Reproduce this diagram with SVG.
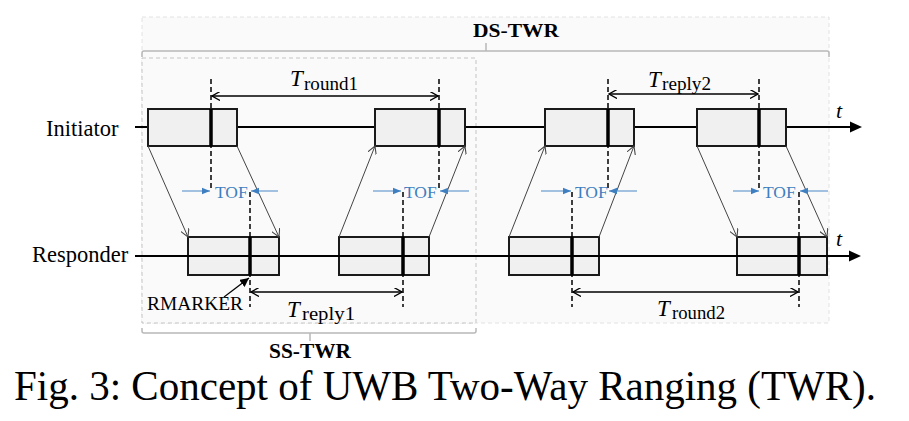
<svg xmlns="http://www.w3.org/2000/svg" width="909" height="421" viewBox="0 0 909 421">
<style>
.box{fill:#f0f0f0;stroke:#1a1a1a;stroke-width:2}
.mark{stroke:#000;stroke-width:3.5}
.axis{stroke:#000;stroke-width:2;fill:none}
.dash{stroke:#000;stroke-width:1.5;stroke-dasharray:5,3;fill:none}
.sig{stroke:#444;stroke-width:1;fill:none;marker-end:url(#sa)}
.dim{stroke:#000;stroke-width:1.5;fill:none;marker-start:url(#da);marker-end:url(#da)}
.tofl{stroke:#4a88c8;stroke-width:1;fill:none;marker-end:url(#ba)}
.tof{font-family:"Liberation Serif",serif;font-size:17.5px;fill:#3f7fc0}
.lbl{font-family:"Liberation Serif",serif;fill:#000}
.it{font-style:italic}
.brk{stroke:#b8b8b8;stroke-width:1.5;fill:none}
</style>
<defs>
<marker id="da" viewBox="0 0 10 10" refX="9" refY="5" markerWidth="9" markerHeight="9" markerUnits="userSpaceOnUse" orient="auto-start-reverse">
<path d="M0,0 L9,5 L0,10" fill="none" stroke="#000" stroke-width="1.5"/>
</marker>
<marker id="sa" viewBox="0 0 10 10" refX="9" refY="5" markerWidth="9" markerHeight="9" markerUnits="userSpaceOnUse" orient="auto">
<path d="M0,0 L9,5 L0,10" fill="none" stroke="#444" stroke-width="1.2"/>
</marker>
<marker id="ba" viewBox="0 0 10 10" refX="10" refY="5" markerWidth="8" markerHeight="8" markerUnits="userSpaceOnUse" orient="auto">
<path d="M0,1 L10,5 L0,9 Z" fill="#3f7fc0"/>
</marker>
<marker id="ka" viewBox="0 0 10 10" refX="10" refY="5" markerWidth="9" markerHeight="9" markerUnits="userSpaceOnUse" orient="auto">
<path d="M0,0 L10,5 L0,10 Z" fill="#000"/>
</marker>
</defs>
<rect width="909" height="421" fill="#fff"/>

<g id="ds-region">
<rect x="142" y="17" width="687" height="306" fill="#fafafa" stroke="#e2e2e2" stroke-width="1" stroke-dasharray="4,3"/>
<path class="brk" d="M142,57 L142,53 Q142,51 144,51 L827,51 Q829,51 829,53 L829,57 M486,51 L486,43"/>
<text class="lbl" x="473" y="37" font-size="19" font-weight="bold" textLength="86" lengthAdjust="spacingAndGlyphs">DS-TWR</text>
</g>

<g id="ss-region">
<rect x="142" y="58" width="334" height="265" fill="#fafafa" stroke="#c4c4c4" stroke-width="1" stroke-dasharray="4,3"/>
<path class="brk" d="M142,328 L142,331 Q142,333 144,333 L474,333 Q476,333 476,331 L476,328 M310,333 L310,341"/>
<text class="lbl" x="310" y="358" font-size="21" font-weight="bold" text-anchor="middle" textLength="82" lengthAdjust="spacingAndGlyphs">SS-TWR</text>
</g>

<g id="initiator">
<text class="lbl" x="46" y="136" font-size="22.5">Initiator</text>
<line class="axis" x1="135" y1="127" x2="852" y2="127"/>
<path d="M862,127 L850,121.5 L850,132.5 Z" fill="#000"/>
<text class="lbl it" x="836" y="118" font-size="22">t</text>
</g>

<g id="responder">
<text class="lbl" x="32" y="262" font-size="22.5">Responder</text>
</g>

<g id="init-box1"><rect class="box" x="148" y="109" width="89" height="37"/><line class="mark" x1="211" y1="109" x2="211" y2="146"/></g>
<g id="init-box2"><rect class="box" x="375" y="109" width="90" height="37"/><line class="mark" x1="439" y1="109" x2="439" y2="146"/></g>
<g id="init-box3"><rect class="box" x="545" y="109" width="89" height="37"/><line class="mark" x1="608" y1="109" x2="608" y2="146"/></g>
<g id="init-box4"><rect class="box" x="697" y="109" width="89" height="37"/><line class="mark" x1="759" y1="109" x2="759" y2="146"/></g>

<g id="resp-box1"><rect class="box" x="188" y="237" width="91" height="38"/></g>
<g id="resp-box2"><rect class="box" x="339" y="237" width="90" height="38"/></g>
<g id="resp-box3"><rect class="box" x="509" y="237" width="90" height="38"/></g>
<g id="resp-box4"><rect class="box" x="737" y="237" width="90" height="38"/></g>

<g id="resp-axis">
<line class="axis" x1="135" y1="256" x2="851" y2="256"/>
<path d="M861,256 L849,250.5 L849,261.5 Z" fill="#000"/>
<text class="lbl it" x="836" y="246" font-size="22">t</text>
<line class="mark" x1="250" y1="237" x2="250" y2="275"/>
<line class="mark" x1="403" y1="237" x2="403" y2="275"/>
<line class="mark" x1="572" y1="237" x2="572" y2="275"/>
<line class="mark" x1="799" y1="237" x2="799" y2="275"/>
</g>

<g id="connectors">
<line class="sig" x1="148" y1="146" x2="188" y2="237"/>
<line class="sig" x1="237" y1="146" x2="279" y2="237"/>
<line class="sig" x1="339" y1="237" x2="375" y2="146"/>
<line class="sig" x1="429" y1="237" x2="465" y2="146"/>
<line class="sig" x1="509" y1="237" x2="545" y2="146"/>
<line class="sig" x1="599" y1="237" x2="634" y2="146"/>
<line class="sig" x1="697" y1="146" x2="737" y2="237"/>
<line class="sig" x1="786" y1="146" x2="827" y2="237"/>

<path class="dash" d="M211,79 V191 M439,79 V191 M608,79 V191 M759,79 V191"/>
<path class="dash" d="M250,192 V307 M403,192 V307 M572,192 V307 M799,192 V307"/>

<line class="dim" x1="212" y1="96" x2="438" y2="96"/>
<line class="dim" x1="251" y1="292" x2="402" y2="292"/>
<line class="dim" x1="609" y1="94" x2="758" y2="94"/>
<line class="dim" x1="573" y1="292" x2="798" y2="292"/>

<line x1="224" y1="297" x2="249" y2="278" stroke="#000" stroke-width="1.2" marker-end="url(#ka)"/>
</g>

<g id="tof1"><line class="tofl" x1="182" y1="191" x2="210" y2="191"/><line class="tofl" x1="278" y1="191" x2="251" y2="191"/><text class="tof" x="215" y="198">TOF</text></g>
<g id="tof2"><line class="tofl" x1="373" y1="191" x2="401" y2="191"/><line class="tofl" x1="469" y1="191" x2="440" y2="191"/><text class="tof" x="404" y="198">TOF</text></g>
<g id="tof3"><line class="tofl" x1="541" y1="191" x2="571" y2="191"/><line class="tofl" x1="637" y1="191" x2="609" y2="191"/><text class="tof" x="575" y="198">TOF</text></g>
<g id="tof4"><line class="tofl" x1="733" y1="191" x2="759" y2="191"/><line class="tofl" x1="828" y1="191" x2="800" y2="191"/><text class="tof" x="763" y="198">TOF</text></g>

<g id="labels">
<text class="lbl" x="147" y="310" font-size="19.5" textLength="96" lengthAdjust="spacingAndGlyphs">RMARKER</text>
<text class="lbl" y="86"><tspan class="it" x="290" font-size="23">T</tspan><tspan x="304" y="90" font-size="18" textLength="54" lengthAdjust="spacingAndGlyphs">round1</tspan></text>
<text class="lbl" y="317"><tspan class="it" x="287" font-size="23">T</tspan><tspan x="302" y="320" font-size="18" textLength="53" lengthAdjust="spacingAndGlyphs">reply1</tspan></text>
<text class="lbl" y="87"><tspan class="it" x="648" font-size="23">T</tspan><tspan x="662" y="90" font-size="18" textLength="49" lengthAdjust="spacingAndGlyphs">reply2</tspan></text>
<text class="lbl" y="316"><tspan class="it" x="657" font-size="23">T</tspan><tspan x="672" y="319" font-size="18" textLength="53" lengthAdjust="spacingAndGlyphs">round2</tspan></text>
</g>

<text id="caption" class="lbl" x="14" y="400" font-size="42" textLength="862" lengthAdjust="spacingAndGlyphs">Fig. 3: Concept of UWB Two-Way Ranging (TWR).</text>
</svg>
